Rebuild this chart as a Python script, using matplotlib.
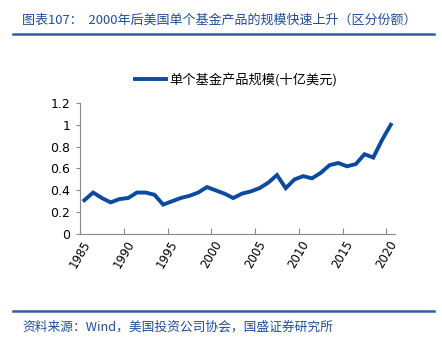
import numpy as np
import matplotlib.pyplot as plt
from matplotlib.lines import Line2D

plt.rcParams['font.family'] = ['Noto Sans CJK SC', 'DejaVu Sans']

years = list(range(1985, 2021))
fund_size = [0.31, 0.38, 0.33, 0.29, 0.32, 0.33, 0.38, 0.38, 0.36, 0.27,
             0.30, 0.33, 0.35, 0.38, 0.43, 0.40, 0.37, 0.33, 0.37, 0.39,
             0.42, 0.47, 0.54, 0.42, 0.50, 0.53, 0.51, 0.56, 0.63, 0.65,
             0.62, 0.64, 0.73, 0.70, 0.86, 1.00]
xticks = list(range(1985, 2021, 5))
yticks = [0, 0.2, 0.4, 0.6, 0.8, 1.0, 1.2]
ytick_labels = ['0', '0.2', '0.4', '0.6', '0.8', '1', '1.2']

title = '图表107：  2000年后美国单个基金产品的规模快速上升（区分份额）'
legend_label = '单个基金产品规模(十亿美元)'
source = '资料来源：Wind，美国投资公司协会，国盛证券研究所'

blue = '#0b4a9e'
text_blue = '#1f4e9c'

fig = plt.figure(figsize=(4.42, 3.51), dpi=100)
ax = fig.add_axes([0.181, 0.333, 0.713, 0.374])

# excel category axis: points sit in the middle of each year slot
x = np.array(years) + 0.5
ax.plot(x, fund_size, color=blue, lw=2.8, solid_joinstyle='miter')

ax.set_xlim(1985, 2021)
ax.set_ylim(0, 1.2)
ax.set_xticks(xticks)
ax.set_xticklabels([str(t) for t in xticks], rotation=60, fontsize=8.5,
                   family='DejaVu Sans')
ax.set_yticks(yticks)
ax.set_yticklabels(ytick_labels, fontsize=9, family='DejaVu Sans')
ax.tick_params(axis='x', direction='in', length=4, color='#888888', pad=3)
ax.tick_params(axis='y', direction='out', length=3, color='#888888', pad=4)
for s in ['top', 'right']:
    ax.spines[s].set_visible(False)
for s in ['left', 'bottom']:
    ax.spines[s].set_color('#888888')
    ax.spines[s].set_linewidth(0.8)

handle = Line2D([], [], color=blue, lw=2.8)
fig.legend([handle], [legend_label], loc='center', bbox_to_anchor=(0.535, 0.772),
           frameon=False, fontsize=9.5, handlelength=2.3, handletextpad=0.3)

fig.text(0.05, 0.943, title, color=text_blue, fontsize=9.4, style='italic',
         va='center', ha='left')
fig.add_artist(Line2D([0.03, 0.982], [0.903, 0.903], color='#2f5ea8', lw=1.8,
                      transform=fig.transFigure))
fig.add_artist(Line2D([0.03, 0.982], [0.114, 0.114], color='#2f5ea8', lw=1.8,
                      transform=fig.transFigure))
fig.text(0.05, 0.067, source, color=text_blue, fontsize=9.2, style='italic',
         va='center', ha='left')

fig.savefig('out.png', dpi=100)
